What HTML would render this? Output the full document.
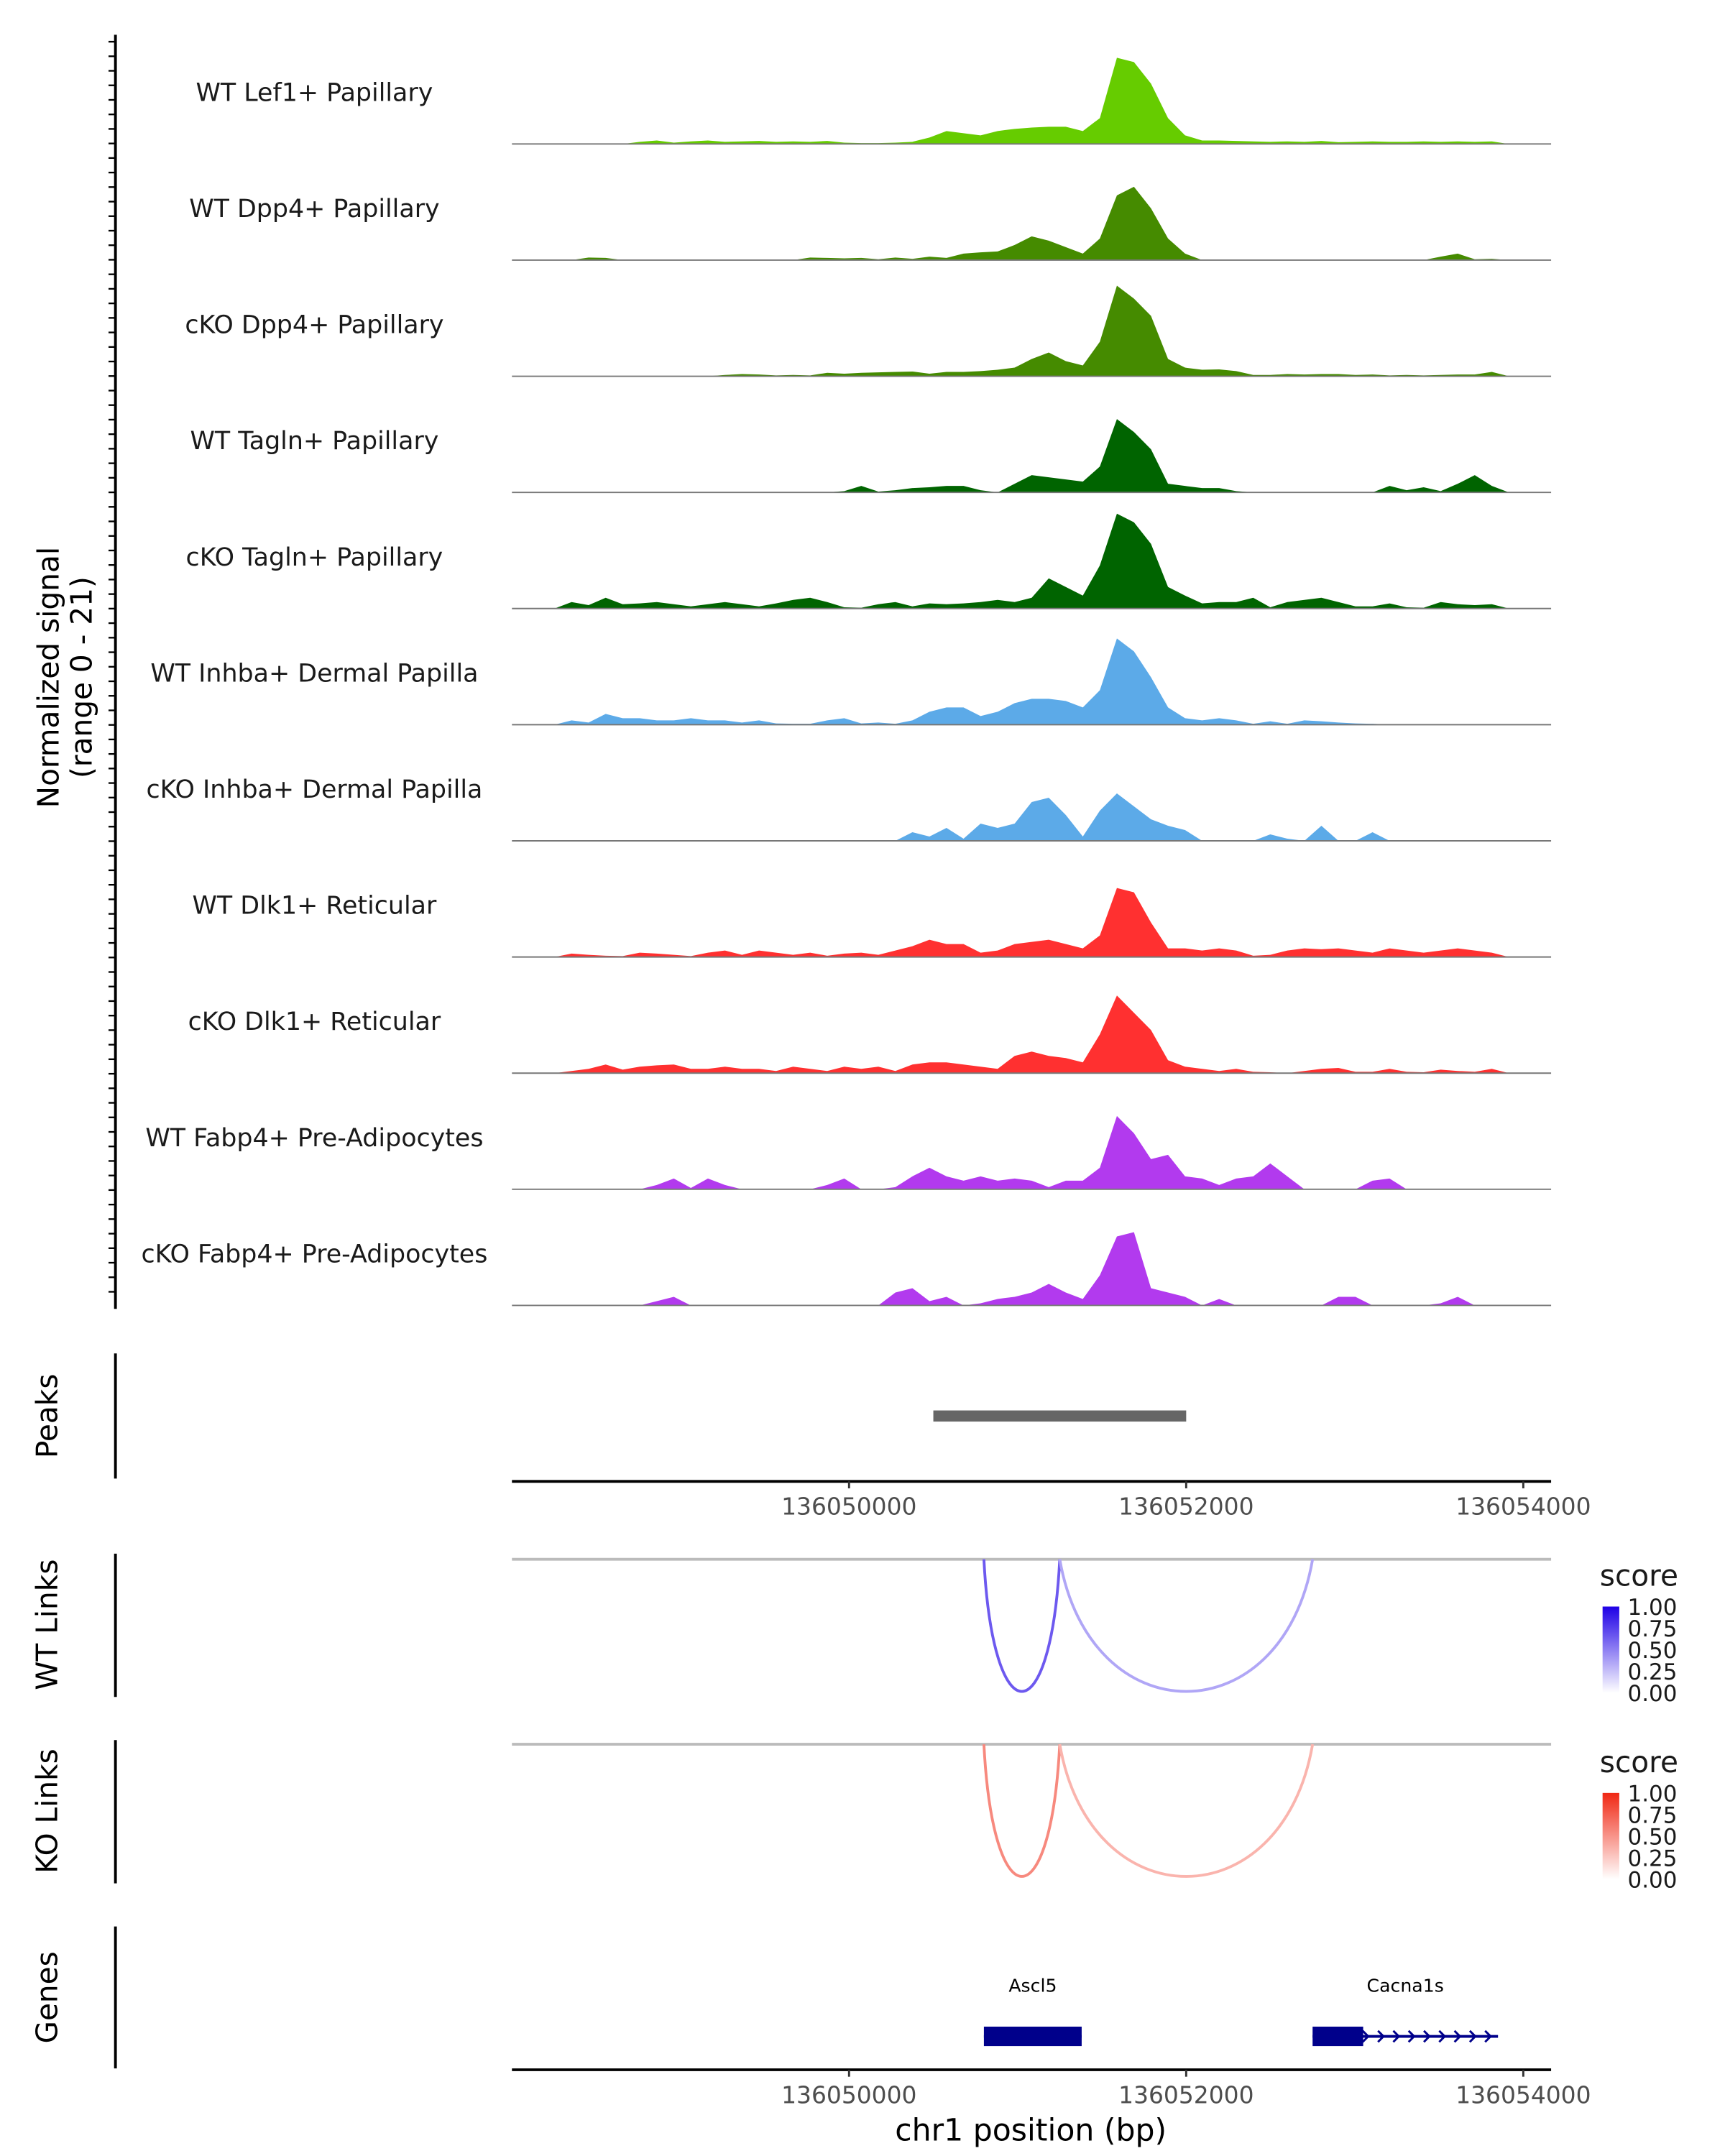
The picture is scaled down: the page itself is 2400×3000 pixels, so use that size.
<!DOCTYPE html>
<html><head><meta charset="utf-8"><style>
html,body{margin:0;padding:0;background:#fff}
svg{display:block}
text{font-family:"DejaVu Sans","Liberation Sans",sans-serif}
</style></head><body>
<svg id="chart" width="2400" height="3000" viewBox="0 0 1240 1550" xmlns="http://www.w3.org/2000/svg">
<g id="tracks"></g>
<g id="static">
  <line x1="83" y1="25" x2="83" y2="941" stroke="#000" stroke-width="2"/>
  <g id="yticks"></g>
  <text transform="translate(42,487) rotate(-90)" text-anchor="middle" font-size="21">Normalized signal</text>
  <text transform="translate(66,487) rotate(-90)" text-anchor="middle" font-size="21">(range 0 - 21)</text>

  <line x1="83" y1="973" x2="83" y2="1063" stroke="#000" stroke-width="2"/>
  <text transform="translate(41,1018) rotate(-90)" text-anchor="middle" font-size="21">Peaks</text>
  <g id="peaks"></g>
  <g id="xaxis1"></g>

  <line x1="83" y1="1117" x2="83" y2="1220" stroke="#000" stroke-width="2"/>
  <text transform="translate(41,1168) rotate(-90)" text-anchor="middle" font-size="21">WT Links</text>
  <line x1="83" y1="1251" x2="83" y2="1354" stroke="#000" stroke-width="2"/>
  <text transform="translate(41,1302) rotate(-90)" text-anchor="middle" font-size="21">KO Links</text>
  <g id="links"></g>

  <line x1="83" y1="1385" x2="83" y2="1487" stroke="#000" stroke-width="2"/>
  <text transform="translate(41,1436) rotate(-90)" text-anchor="middle" font-size="21">Genes</text>
  <g id="genes"></g>
  <g id="xaxis2"></g>
  <text x="741" y="1539" text-anchor="middle" font-size="22">chr1 position (bp)</text>
</g>
</svg>
<script>
const NS='http://www.w3.org/2000/svg';
const trackNames=['WT Lef1+ Papillary','WT Dpp4+ Papillary','cKO Dpp4+ Papillary','WT Tagln+ Papillary','cKO Tagln+ Papillary','WT Inhba+ Dermal Papilla','cKO Inhba+ Dermal Papilla','WT Dlk1+ Reticular','cKO Dlk1+ Reticular','WT Fabp4+ Pre-Adipocytes','cKO Fabp4+ Pre-Adipocytes'];
const trackColors=['#66cc00','#458b00','#458b00','#006400','#006400','#5caae8','#5caae8','#ff3030','#ff3030','#b23aee','#b23aee'];
const lef1=[0,0,0,0,0,0,0,0.5,0.8,0.3,0.6,0.8,0.5,0.6,0.7,0.5,0.6,0.5,0.7,0.3,0.2,0.2,0.3,0.5,1.5,3,2.5,2,3,3.5,3.8,4,4,3,6,20,19,14,6,2,0.8,0.8,0.7,0.6,0.5,0.6,0.5,0.7,0.4,0.5,0.6,0.5,0.5,0.6,0.5,0.6,0.5,0.6,0,0];
const wtDpp4=[0,0,0,0,0.6,0.5,0,0,0,0,0,0,0,0,0,0,0,0.6,0.5,0.4,0.5,0.2,0.6,0.3,0.8,0.5,1.5,1.8,2,3.5,5.5,4.5,3,1.5,5,15,17,12,5,1.5,0,0,0,0,0,0,0,0,0,0,0,0,0,0,0.8,1.5,0.2,0.3,0,0];
const koDpp4=[0,0,0,0,0,0,0,0,0,0,0,0,0.3,0.5,0.4,0.2,0.3,0.2,0.8,0.6,0.8,0.9,1,1.1,0.6,1,1,1.2,1.5,2,4,5.5,3.5,2.5,8,21,18,14,4,2,1.5,1.6,1.2,0.3,0.3,0.5,0.4,0.5,0.5,0.3,0.4,0.2,0.3,0.2,0.3,0.4,0.4,1,0,0];
const wtTagln=[0,0,0,0,0,0,0,0,0,0,0,0,0,0,0,0,0,0,0,0.3,1.5,0.2,0.5,1,1.2,1.5,1.5,0.5,0,2,4,3.5,3,2.5,6,17,14,10,2,1.5,1,1,0.3,0,0,0,0,0,0,0,0,1.5,0.5,1.2,0.3,2,4,1.5,0,0];
const koTagln=[0,0,0,1.5,0.8,2.5,1,1.2,1.5,1,0.5,1,1.5,1,0.5,1.2,2,2.5,1.5,0.3,0.2,1,1.5,0.5,1.2,1,1.2,1.5,2,1.5,2.5,7,5,3,10,22,20,15,5,3,1.2,1.5,1.5,2.5,0.3,1.5,2,2.5,1.5,0.5,0.5,1.2,0.3,0.2,1.5,1,0.8,1,0,0];
const wtInhba=[0,0,0,1,0.5,2.5,1.5,1.5,1,1,1.5,1,1,0.5,1,0.3,0.2,0.2,1,1.5,0.3,0.5,0.2,1,3,4,4,2,3,5,6,6,5.5,4,8,20,17,11,4,1.5,1,1.5,1,0.2,0.8,0.2,1,0.8,0.5,0.3,0.2,0,0,0,0,0,0,0,0,0];
const koInhba=[0,0,0,0,0,0,0,0,0,0,0,0,0,0,0,0,0,0,0,0,0,0,0,2,1,3,0.5,4,3,4,9,10,6,1,7,11,8,5,3.5,2.5,0,0,0,0,1.5,0.5,0,3.5,0,0,2,0,0,0,0,0,0,0,0,0];
const wtDlk1=[0,0,0,0.8,0.5,0.3,0.2,1,0.8,0.5,0.2,1,1.5,0.5,1.5,1,0.5,1,0.3,0.8,1,0.5,1.5,2.5,4,3,3,1,1.5,3,3.5,4,3,2,5,16,15,8,2,2,1.5,2,1.5,0.3,0.5,1.5,2,1.8,2,1.5,1,2,1.5,1,1.5,2,1.5,1,0,0];
const koDlk1=[0,0,0,0.5,1,2,0.8,1.5,1.8,2,1,1,1.5,1,1,0.5,1.5,1,0.5,1.5,1,1.5,0.5,2,2.5,2.5,2,1.5,1,4,5,4,3.5,2.5,9,18,14,10,3,1.5,1,0.5,1,0.3,0.2,0,0.5,1,1.2,0.3,0.3,1,0.3,0.2,0.8,0.5,0.3,1,0,0];
const wtFabp4=[0,0,0,0,0,0,0,0,1,2.5,0.3,2.5,1,0,0,0,0,0,1,2.5,0,0,0.5,3,5,3,2,3,2,2.5,2,0.5,2,2,5,17,13,7,8,3,2.5,1,2.5,3,6,3,0,0,0,0,2,2.5,0,0,0,0,0,0,0,0];
const koFabp4=[0,0,0,0,0,0,0,0,1,2,0,0,0,0,0,0,0,0,0,0,0,0,3,4,1,2,0,0.5,1.5,2,3,5,3,1.5,7,16,17,4,3,2,0,1.5,0,0,0,0,0,0,2,2,0,0,0,0,0.5,2,0,0,0,0];
const trackValues=[lef1,wtDpp4,koDpp4,wtTagln,koTagln,wtInhba,koInhba,wtDlk1,koDlk1,wtFabp4,koFabp4];
const regionStart=136048000, regionEnd=136054165;
const xTicks=[136050000,136052000,136054000];
const xTickLabels=['136050000','136052000','136054000'];
const peakStarts=[136050500];
const peakEnds=[136052000];
const wtLinkStarts=[136050800,136051250];
const wtLinkEnds=[136051250,136052750];
const wtLinkScores=[0.65,0.35];
const koLinkStarts=[136050800,136051250];
const koLinkEnds=[136051250,136052750];
const koLinkScores=[0.55,0.35];
const scoreTicks=['1.00','0.75','0.50','0.25','0.00'];
const geneNames=['Ascl5','Cacna1s'];
const geneStarts=[136050800,136052750];
const geneEnds=[136051380,136053850];
const exonStarts=[136050800,136052750];
const exonEnds=[136051380,136053050];

const X0=368,X1=1115;
function xs(v){return X0+(v-regionStart)/(regionEnd-regionStart)*(X1-X0);}
const trackTop=20, trackH=83.5, pxPerUnit=3.1;
function el(tag,attrs,parent){const e=document.createElementNS(NS,tag);for(const k in attrs)e.setAttribute(k,attrs[k]);parent.appendChild(e);return e;}

const tracksG=document.getElementById('tracks');
trackValues.forEach((vals,t)=>{
  const base=trackTop+trackH*(t+1);
  const g=el('g',{},tracksG);
  
  
  const n=vals.length, bw=(X1-X0-12)/n;
  let d='M'+X0+','+base;
  vals.forEach((v,i)=>{d+=' L'+(X0+bw*(i+0.5)).toFixed(2)+','+(base-v*pxPerUnit).toFixed(2);});
  d+=' L'+(X0+bw*n)+','+base+' Z';
  const p=el('path',{d:d,fill:trackColors[t]},g);
  
  
  const l=el('line',{x1:X0,x2:X1,y1:base,y2:base,stroke:'#777','stroke-width':1},g);
  
  
  const tx=el('text',{x:226,y:base-31,'text-anchor':'middle','font-size':18,fill:'#1a1a1a'},g);
  tx.textContent=trackNames[t];
  
  
});
const yt=document.getElementById('yticks');
for(let y=30;y<=938;y+=10.45){const l=el('line',{x1:78,x2:83,y1:y,y2:y,stroke:'#000','stroke-width':1.2},yt);
  
  }

const pk=document.getElementById('peaks');
peakStarts.forEach((s,i)=>{const r=el('rect',{x:xs(s),y:1014,width:xs(peakEnds[i])-xs(s),height:8,fill:'#666'},pk);
  
  });

function xAxis(id,y){
  const g=document.getElementById(id);
  el('line',{x1:X0,x2:X1,y1:y,y2:y,stroke:'#000','stroke-width':2},g);
  xTicks.forEach((v,i)=>{
    const tk=el('line',{x1:xs(v),x2:xs(v),y1:y,y2:y+5,stroke:'#333','stroke-width':1.5},g);
    
    
    const t=el('text',{x:xs(v),y:y+24,'text-anchor':'middle','font-size':17,fill:'#4d4d4d'},g);
    t.textContent=xTickLabels[i];
    
    
  });
}
xAxis('xaxis1',1065);xAxis('xaxis2',1488);

const lg=document.getElementById('links');
function lerp(a,b,t){return Math.round(a+(b-a)*t);}
function linkPanel(y0,starts,ends,scores,hi,legY,gradId,name){
  const g=el('g',{},lg);
  
  
  el('line',{x1:X0,x2:X1,y1:y0,y2:y0,stroke:'#bbb','stroke-width':2},g);
  const depth=95;
  starts.forEach((s,i)=>{
    const a=xs(s),b=xs(ends[i]),c=y0+depth*4/3,t=scores[i],w=b-a;
    const col='rgb('+lerp(255,hi[0],t)+','+lerp(255,hi[1],t)+','+lerp(255,hi[2],t)+')';
    const p=el('path',{d:`M${a},${y0} C${a+w*0.12},${c} ${b-w*0.12},${c} ${b},${y0}`,fill:'none',stroke:col,'stroke-width':2},g);
    
    
  });
  const defs=el('defs',{},g);
  const gr=el('linearGradient',{id:gradId,x1:0,y1:1,x2:0,y2:0},defs);
  el('stop',{offset:0,'stop-color':'#fff'},gr);
  el('stop',{offset:1,'stop-color':`rgb(${hi.join(',')})`},gr);
  const tt=el('text',{x:1150,y:legY,'font-size':21,fill:'#1a1a1a'},g);
  tt.textContent='score';
  
  
  const r=el('rect',{x:1152,y:legY+15,width:12,height:62,fill:`url(#${gradId})`},g);
  
  
  scoreTicks.forEach((s,i)=>{
    const t=el('text',{x:1170,y:legY+21+i*15.5,'font-size':16,fill:'#1a1a1a'},g);
    t.textContent=s;
    
    
  });
}
linkPanel(1121,wtLinkStarts,wtLinkEnds,wtLinkScores,[30,0,230],1140,'gwt','wt-links');
linkPanel(1254,koLinkStarts,koLinkEnds,koLinkScores,[240,40,20],1274,'gko','ko-links');

const gg=document.getElementById('genes');
geneNames.forEach((n,i)=>{
  const a=xs(geneStarts[i]),b=xs(geneEnds[i]);
  const g=el('g',{},gg);
  
  
  el('line',{x1:a,x2:b,y1:1464,y2:1464,stroke:'#00008b','stroke-width':2},g);
  el('rect',{x:xs(exonStarts[i]),y:1457,width:xs(exonEnds[i])-xs(exonStarts[i]),height:14,fill:'#00008b'},g);
  for(let x=a+6;x<b-2;x+=11){el('path',{d:`M${x-3},${1460} L${x+1},1464 L${x-3},1468`,fill:'none',stroke:'#00008b','stroke-width':1.5},g);}
  const t=el('text',{x:(a+b)/2,y:1432,'text-anchor':'middle','font-size':13,fill:'#000'},g);
  t.textContent=n;
  
  
});
</script>
</body></html>
